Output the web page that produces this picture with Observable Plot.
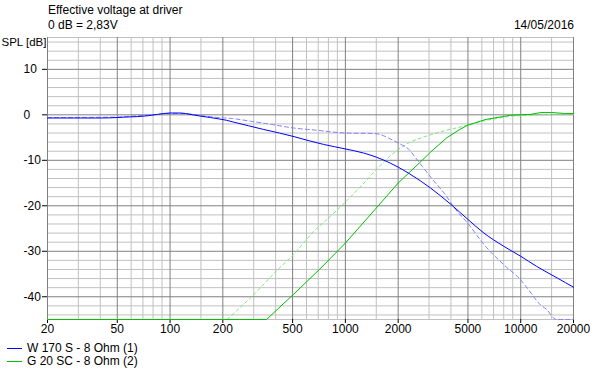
<!DOCTYPE html>
<html><head><meta charset="utf-8">
<script src="https://cdn.jsdelivr.net/npm/d3@7"></script>
<script src="https://cdn.jsdelivr.net/npm/@observablehq/plot@0.6"></script>
<style>
body{margin:0;background:#fff;font-family:"Liberation Sans",Arial,sans-serif;font-size:12px;color:#000;}
#wrap{position:relative;width:607px;height:371px;overflow:hidden;background:#fff;}
.t{position:absolute;white-space:nowrap;line-height:14px;}
.sw{position:absolute;left:7px;width:15px;height:1px;}
#chart svg{display:block;}
</style></head><body>
<div id="wrap">
  <div id="head" style="position:relative;height:30px">
    <div class="t" style="left:48px;top:3px">Effective voltage at driver</div>
    <div class="t" style="left:48px;top:18px">0 dB = 2,83V</div>
    <div class="t" style="right:33px;top:18px">14/05/2016</div>
  </div>
  <div id="chart"></div>
  <div id="legend" style="position:relative;height:31px"></div>
</div>
<script>
// ---- data ----
const seriesNames = ["W 170 S - 8 Ohm (1)", "G 20 SC - 8 Ohm (2)"];

const w170Freq = [20,40,50,55,65,75,85,100,115,130,150,170,190,210,230,280,340,420,510,620,750,1000,1270,1500,1800,2000,2330,3060,4000,5000,6170,8000,10000,12300,16200,20000];
const w170Db   = [-0.7,-0.7,-0.6,-0.5,-0.4,-0.2,0.1,0.4,0.4,0.1,-0.3,-0.6,-0.9,-1.2,-1.6,-2.4,-3.2,-4.0,-4.8,-5.7,-6.5,-7.5,-8.4,-9.3,-10.6,-11.5,-13.0,-16.1,-19.7,-23.0,-26.0,-28.9,-31.1,-33.3,-35.9,-37.9];

const w170bFreq = [20,50,60,70,85,100,120,140,160,190,225,288,377,508,690,1000,1460,1600,1760,2000,2330,2520,2740,3140,3770,4120,5050,6170,8020,10000,10900,12980,14140,15440,16000,20000];
const w170bDb   = [-0.6,-0.5,-0.3,-0.1,0.1,0.3,0.3,0.0,-0.3,-0.6,-0.8,-1.4,-2.1,-2.9,-3.4,-4.0,-4.1,-4.4,-5.1,-6.2,-7.8,-9.5,-11.3,-14.2,-17.9,-20.1,-24.1,-28.5,-33.0,-36.3,-38.1,-41.8,-42.9,-44.7,-45,-45];

const g20Freq = [20,355,508,707,900,1000,1500,2000,2640,3060,3770,4500,4970,6340,8750,11400,13000,15000,17800,20000];
const g20Db   = [-45,-45,-39.4,-34.1,-30.0,-28.2,-20.5,-15.0,-10.6,-8.2,-5.1,-3.2,-2.3,-1.0,-0.1,0.1,0.5,0.5,0.3,0.3];

const g20bFreq = [20,212,294,409,508,659,823,1000,1330,1500,1800,2000,2330,2730,3060,3770,4970,6340,8750,11400,15000,20000];
const g20bDb   = [-45,-45,-39.9,-34.1,-30.7,-25.6,-22.3,-19.2,-14.3,-12.0,-9.0,-7.6,-6.0,-5.0,-4.4,-3.4,-2.3,-1.2,-0.3,-0.1,0.1,0.2];

const freqTicks = [20,50,100,200,500,1000,2000,5000,10000,20000];
const freqMinor = [30,40,60,70,80,90,150,300,400,600,700,800,900,1500,3000,4000,6000,7000,8000,9000,15000];
const dbTicks = [-40,-30,-20,-10,0,10];
const dbMinor = [-44,-42,-38,-36,-34,-32,-28,-26,-24,-22,-18,-16,-14,-12,-8,-6,-4,-2,2,4,6,8,12,14,16];

// ---- build ----
const toRows = (fs, ds) => fs.map((f, i) => ({f, db: ds[i]}));
const w170 = toRows(w170Freq, w170Db);
const w170b = toRows(w170bFreq, w170bDb);
const g20 = toRows(g20Freq, g20Db);
const g20b = toRows(g20bFreq, g20bDb);

const cBlue = "#0000ff", cBlueL = "#8080ff", cGreen = "#00c000", cGreenL = "#80e880";
const yMin = -45, yMax = 17;

const chart = Plot.plot({
  width: 607, height: 310,
  marginLeft: 47, marginRight: 34, marginTop: 7, marginBottom: 21,
  x: {type: "log", domain: [20, 20000], axis: null},
  y: {domain: [yMin, yMax]},
  style: {fontFamily: '"Liberation Sans", Arial, sans-serif', fontSize: "12px", color: "#000", background: "#fff"},
  marks: [
    Plot.ruleX(freqMinor, {stroke: "#c0c0c0"}),
    Plot.ruleY(dbMinor, {stroke: "#c0c0c0"}),
    Plot.frame({stroke: "#c0c0c0"}),
    Plot.ruleX(freqTicks, {stroke: "#808080"}),
    Plot.ruleY(dbTicks, {stroke: "#808080"}),
    Plot.ruleX(freqTicks, {x: d => d, y1: () => yMin, y2: () => yMin, insetBottom: -4, stroke: "#000"}),
    Plot.text(freqTicks, {x: d => d, text: d => String(d), frameAnchor: "bottom", lineAnchor: "top", dy: 5, fontSize: 12}),
    Plot.axisY({ticks: dbTicks, tickFormat: d => String(d), tickSize: 5, tickPadding: 19, textAnchor: "start", label: null, fontSize: 12}),
    Plot.text(["SPL [dB]"], {frameAnchor: "top-left", dx: -46, dy: 5, textAnchor: "start", lineAnchor: "middle", fontSize: 11.5}),
    Plot.line(g20b, {x: "f", y: "db", stroke: cGreenL, strokeWidth: 1, strokeDasharray: "3,3"}),
    Plot.line(w170b, {x: "f", y: "db", stroke: cBlueL, strokeWidth: 1, strokeDasharray: "4,3", curve: "monotone-x"}),
    Plot.line(g20, {x: "f", y: "db", stroke: cGreen, strokeWidth: 1}),
    Plot.line(w170, {x: "f", y: "db", stroke: cBlue, strokeWidth: 1, curve: "monotone-x"})
  ]
});
document.getElementById("chart").appendChild(chart);

// legend
const leg = document.getElementById("legend");
[[seriesNames[0], cBlue, 1], [seriesNames[1], cGreen, 14]].forEach(([name, col, top]) => {
  const sw = document.createElement("div");
  sw.className = "sw"; sw.style.background = col; sw.style.top = (top + 7) + "px";
  leg.appendChild(sw);
  const t = document.createElement("div");
  t.className = "t"; t.style.left = "27px"; t.style.top = top + "px"; t.textContent = name;
  leg.appendChild(t);
});
</script>
</body></html>
